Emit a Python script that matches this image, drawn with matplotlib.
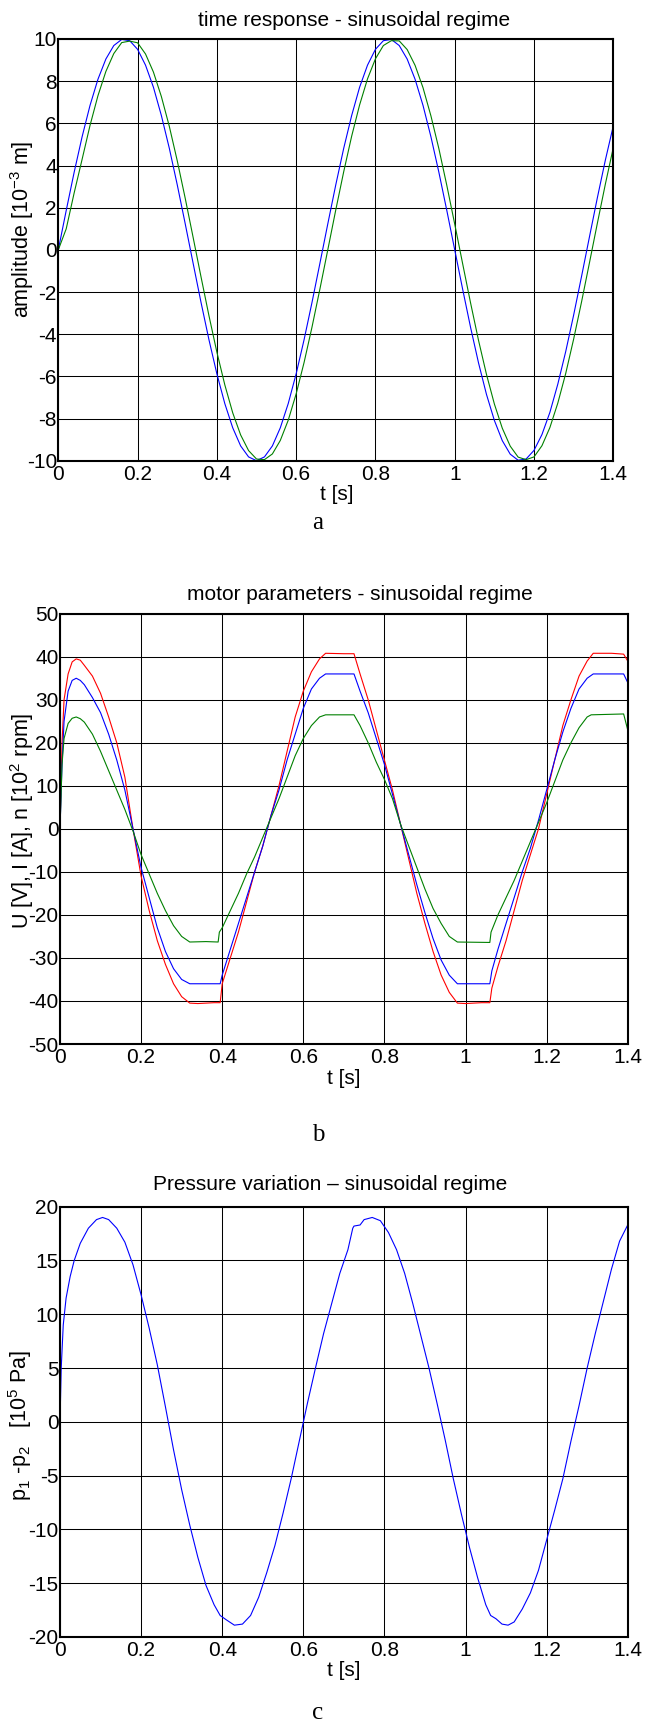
import matplotlib
matplotlib.use("Agg")
import matplotlib.pyplot as plt

plt.rcParams['font.family'] = ['Liberation Sans', 'DejaVu Sans']
plt.rcParams['mathtext.fontset'] = 'custom'
plt.rcParams['mathtext.rm'] = 'Liberation Sans'
plt.rcParams['mathtext.it'] = 'Liberation Sans:italic'

# ---------------- data: (a) time response ----------------
t_a = [0.00, 0.02, 0.04, 0.06, 0.08, 0.10, 0.12, 0.14, 0.16, 0.18,
       0.20, 0.22, 0.24, 0.26, 0.28, 0.30, 0.32, 0.34, 0.36, 0.38,
       0.40, 0.42, 0.44, 0.46, 0.48, 0.50, 0.52, 0.54, 0.56, 0.58,
       0.60, 0.62, 0.64, 0.66, 0.68, 0.70, 0.72, 0.74, 0.76, 0.78,
       0.80, 0.82, 0.84, 0.86, 0.88, 0.90, 0.92, 0.94, 0.96, 0.98,
       1.00, 1.02, 1.04, 1.06, 1.08, 1.10, 1.12, 1.14, 1.16, 1.18,
       1.20, 1.22, 1.24, 1.26, 1.28, 1.30, 1.32, 1.34, 1.36, 1.38, 1.40]
amp_blue = [0.00, 1.87, 3.68, 5.36, 6.85, 8.09, 9.05, 9.69, 9.98, 9.92,
            9.51, 8.76, 7.71, 6.37, 4.82, 3.09, 1.25, -0.63, -2.49, -4.26,
            -5.88, -7.29, -8.44, -9.30, -9.82, -10.0, -9.82, -9.30, -8.44, -7.29,
            -5.88, -4.26, -2.49, -0.63, 1.25, 3.09, 4.82, 6.37, 7.71, 8.76,
            9.51, 9.92, 9.98, 9.69, 9.05, 8.09, 6.85, 5.36, 3.68, 1.87,
            0.00, -1.87, -3.68, -5.36, -6.85, -8.09, -9.05, -9.69, -9.98, -9.92,
            -9.51, -8.76, -7.71, -6.37, -4.82, -3.09, -1.25, 0.63, 2.49, 4.26, 5.88]
amp_green = [0.00, 1.00, 2.70, 4.29, 5.90, 7.31, 8.46, 9.31, 9.83, 9.90,
             9.82, 9.29, 8.43, 7.27, 5.86, 4.23, 2.46, 0.60, -1.28, -3.12,
             -4.85, -6.40, -7.73, -8.78, -9.52, -9.92, -9.95, -9.68, -9.04, -8.08,
             -6.83, -5.34, -3.66, -1.85, 0.02, 1.90, 3.71, 5.39, 6.87, 8.11,
             9.06, 9.69, 9.92, 9.91, 9.50, 8.75, 7.69, 6.35, 4.80, 3.06,
             1.22, -0.66, -2.52, -4.29, -5.90, -7.31, -8.46, -9.31, -9.83, -9.95,
             -9.82, -9.29, -8.43, -7.27, -5.86, -4.23, -2.46, -0.60, 1.28, 3.12, 4.85]

# ---------------- data: (b) motor parameters ----------------
t_U = [0.0, 0.005, 0.01, 0.02, 0.03, 0.04, 0.05, 0.06, 0.08, 0.10, 0.12, 0.14, 0.16,
       0.18, 0.20, 0.22, 0.24, 0.26, 0.28, 0.30, 0.32, 0.34, 0.36, 0.38, 0.395,
       0.40, 0.42, 0.44, 0.46, 0.48, 0.50, 0.52, 0.54, 0.56, 0.58, 0.60, 0.62, 0.64,
       0.655, 0.70, 0.725, 0.74, 0.76, 0.78, 0.80, 0.82, 0.84, 0.86, 0.88, 0.90,
       0.92, 0.94, 0.96, 0.98, 1.00, 1.04, 1.06, 1.065, 1.08, 1.10, 1.12, 1.14,
       1.16, 1.18, 1.20, 1.22, 1.24, 1.26, 1.28, 1.30, 1.315, 1.36, 1.39, 1.40]
U_red = [0, 20, 30, 36, 38.8, 39.5, 39.2, 38.0, 35.5, 31.5, 26, 20, 12,
         0, -11, -19, -26, -31.5, -36, -39, -40.5, -40.6, -40.5, -40.4, -40.4,
         -36, -30, -24, -17, -10, -4, 3, 10, 18, 26, 32, 36.5, 39.5,
         40.8, 40.7, 40.7, 36, 30, 23, 16, 9, 1, -7, -15, -22,
         -28.5, -34, -38, -40.5, -40.6, -40.4, -40.4, -37, -32, -26, -19, -12,
         -6, 0, 8, 16, 24, 30, 35.5, 39, 40.8, 40.8, 40.6, 39]

t_I = [0.0, 0.005, 0.01, 0.02, 0.03, 0.04, 0.05, 0.06, 0.08, 0.10, 0.12, 0.14, 0.16,
       0.18, 0.20, 0.22, 0.24, 0.26, 0.28, 0.30, 0.32, 0.36, 0.395,
       0.40, 0.42, 0.44, 0.46, 0.48, 0.50, 0.52, 0.54, 0.56, 0.58, 0.60, 0.62, 0.64,
       0.655, 0.725, 0.74, 0.76, 0.78, 0.80, 0.82, 0.84, 0.86, 0.88, 0.90,
       0.92, 0.94, 0.96, 0.98, 1.06, 1.065, 1.08, 1.10, 1.12, 1.14,
       1.16, 1.18, 1.20, 1.22, 1.24, 1.26, 1.28, 1.30, 1.315, 1.39, 1.40]
I_blue = [0, 15, 25, 32, 34.5, 35, 34.5, 33.5, 30.5, 27, 22, 16, 9,
          0, -9, -16, -23, -28.5, -32.5, -35, -36, -36, -36,
          -34, -28, -22, -16, -10, -4, 3, 9, 16, 22, 28, 32.5, 35,
          36, 36, 32, 27, 21, 15, 8, 1, -6, -13, -19.5,
          -25.5, -30.5, -34, -36, -36, -33, -28, -22, -16, -10,
          -4.5, 2, 9, 16, 22.5, 28, 32.5, 35, 36, 36, 34]

t_n = [0.0, 0.005, 0.01, 0.02, 0.03, 0.04, 0.05, 0.06, 0.08, 0.10, 0.12, 0.14, 0.16,
       0.18, 0.20, 0.22, 0.24, 0.26, 0.28, 0.30, 0.32, 0.36, 0.39, 0.393,
       0.40, 0.42, 0.44, 0.46, 0.48, 0.50, 0.52, 0.54, 0.56, 0.58, 0.60, 0.62, 0.64,
       0.655, 0.725, 0.74, 0.76, 0.78, 0.80, 0.82, 0.84, 0.86, 0.88, 0.90,
       0.92, 0.94, 0.96, 0.98, 1.06, 1.063, 1.08, 1.10, 1.12, 1.14,
       1.16, 1.18, 1.20, 1.22, 1.24, 1.26, 1.28, 1.30, 1.31, 1.39, 1.40]
n_green = [0, 15, 21, 24.5, 25.7, 26, 25.6, 24.8, 22, 18, 13.5, 9, 4.5,
           -0.5, -6, -10.5, -15, -19, -22.5, -25, -26.3, -26.2, -26.3, -24,
           -23, -19, -15, -10.5, -6.5, -2, 2.5, 7, 12, 17, 21, 24, 26,
           26.5, 26.5, 24, 20, 15.5, 11.5, 7, 1, -4, -9, -14,
           -18.5, -22, -25, -26.3, -26.4, -24, -20, -16, -12, -7.5,
           -3, 1.5, 6, 11, 16, 20, 23.5, 26, 26.5, 26.7, 23]

# ---------------- data: (c) pressure ----------------
t_p = [0.0, 0.003, 0.008, 0.015, 0.025, 0.035, 0.05, 0.07, 0.09, 0.105, 0.12, 0.14,
       0.16, 0.18, 0.20, 0.22, 0.24, 0.26, 0.28, 0.30, 0.32, 0.34, 0.36, 0.38,
       0.395, 0.41, 0.43, 0.45, 0.47, 0.49, 0.51, 0.53, 0.55, 0.57, 0.59, 0.61,
       0.63, 0.65, 0.67, 0.69, 0.71, 0.722, 0.725, 0.74, 0.75, 0.77, 0.79, 0.81,
       0.83, 0.85, 0.87, 0.89, 0.91, 0.93, 0.95, 0.97, 0.99, 1.01, 1.03, 1.05,
       1.062, 1.075, 1.09, 1.105, 1.12, 1.14, 1.16, 1.18, 1.20, 1.22, 1.24, 1.26,
       1.28, 1.30, 1.32, 1.34, 1.36, 1.38, 1.40]
p_diff = [0, 5, 9, 11.5, 13.5, 15, 16.6, 18, 18.8, 19, 18.8, 18,
          16.7, 14.6, 11.8, 8.7, 5.3, 1.4, -2.6, -6.3, -9.6, -12.6, -15.2, -17,
          -18, -18.4, -18.9, -18.8, -18, -16.3, -14, -11.5, -8.5, -5.3, -1.8, 1.7,
          5, 8.2, 11, 13.8, 16, 18, 18.2, 18.3, 18.8, 19, 18.7, 17.6,
          16, 13.8, 11, 8, 5, 1.7, -1.7, -5.3, -8.6, -11.7, -14.5, -17,
          -18, -18.3, -18.8, -18.9, -18.6, -17.4, -15.9, -13.8, -11, -8.2, -5.3, -1.8,
          1.5, 5, 8.2, 11.2, 14.2, 16.8, 18.3]

x_ticks = [0, 0.2, 0.4, 0.6, 0.8, 1.0, 1.2, 1.4]
x_ticklabels = ["0", "0.2", "0.4", "0.6", "0.8", "1", "1.2", "1.4"]

W, H = 646, 1722
fig = plt.figure(figsize=(W / 100, H / 100), dpi=100)

def px_axes(l, t, r, b):
    return fig.add_axes([l / W, 1 - b / H, (r - l) / W, (b - t) / H])

BLUE = (0, 0, 1)
GREEN = (0, 0.5, 0)
RED = (1, 0, 0)
TFS = 15
LW = 0.8

def style(ax, ylim, yticks):
    ax.set_xlim(0, 1.4)
    ax.set_ylim(*ylim)
    ax.set_xticks(x_ticks)
    ax.set_xticklabels(x_ticklabels)
    ax.set_yticks(yticks)
    ax.set_yticklabels([f"{v:g}" for v in yticks])
    ax.grid(True, color='black', linewidth=0.75)
    ax.set_axisbelow(True)
    ax.tick_params(length=0, labelsize=TFS, colors='black')
    ax.tick_params(axis='x', pad=3)
    ax.tick_params(axis='y', pad=1)
    for s in ax.spines.values():
        s.set_linewidth(1.5)
        s.set_color('black')

# (a)
axa = px_axes(58.3, 39, 613.3, 460.7)
axa.plot(t_a, amp_blue, color=BLUE, lw=LW)
axa.plot(t_a, amp_green, color=GREEN, lw=LW)
style(axa, (-10, 10), list(range(-10, 11, 2)))
fig.text(354 / W, 1 - 20 / H, "time response - sinusoidal regime", ha='center', va='center', fontsize=15)
fig.text(337 / W, 1 - 494 / H, "t [s]", ha='center', va='center', fontsize=15)
fig.text(22.5 / W, 1 - 229 / H, r"amplitude [$\mathregular{10^{-3}}$ m]", ha='center', va='center',
         rotation=90, fontsize=15.5)
fig.text(318 / W, 1 - 523 / H, "a", ha='center', va='center', fontsize=18, family='Liberation Serif')

# (b)
axb = px_axes(60, 613.7, 627.7, 1044)
axb.plot(t_U, U_red, color=RED, lw=LW)
axb.plot(t_I, I_blue, color=BLUE, lw=LW)
axb.plot(t_n, n_green, color=GREEN, lw=LW)
style(axb, (-50, 50), list(range(-50, 51, 10)))
fig.text(360 / W, 1 - 594 / H, "motor parameters - sinusoidal regime", ha='center', va='center', fontsize=15)
fig.text(344 / W, 1 - 1079 / H, "t [s]", ha='center', va='center', fontsize=15)
fig.text(22 / W, 1 - 821 / H, r"U [V], I [A], n [$\mathregular{10^{2}}$ rpm]", ha='center', va='center',
         rotation=90, fontsize=15.5)
fig.text(318 / W, 1 - 1135 / H, "b", ha='center', va='center', fontsize=18, family='Liberation Serif')

# (c)
axc = px_axes(60, 1206.7, 627.7, 1637)
axc.plot(t_p, p_diff, color=BLUE, lw=LW)
style(axc, (-20, 20), list(range(-20, 21, 5)))
fig.text(330 / W, 1 - 1185 / H, "Pressure variation \u2013 sinusoidal regime", ha='center', va='center', fontsize=15)
fig.text(344 / W, 1 - 1670 / H, "t [s]", ha='center', va='center', fontsize=15)
fig.text(20 / W, 1 - 1425 / H, r"p$\mathregular{_1}$ -p$\mathregular{_2}$   [$\mathregular{10^{5}}$ Pa]",
         ha='center', va='center', rotation=90, fontsize=15.5)
fig.text(318 / W, 1 - 1713 / H, "c", ha='center', va='center', fontsize=18, family='Liberation Serif')

fig.savefig("out.png", dpi=100, facecolor='white')
